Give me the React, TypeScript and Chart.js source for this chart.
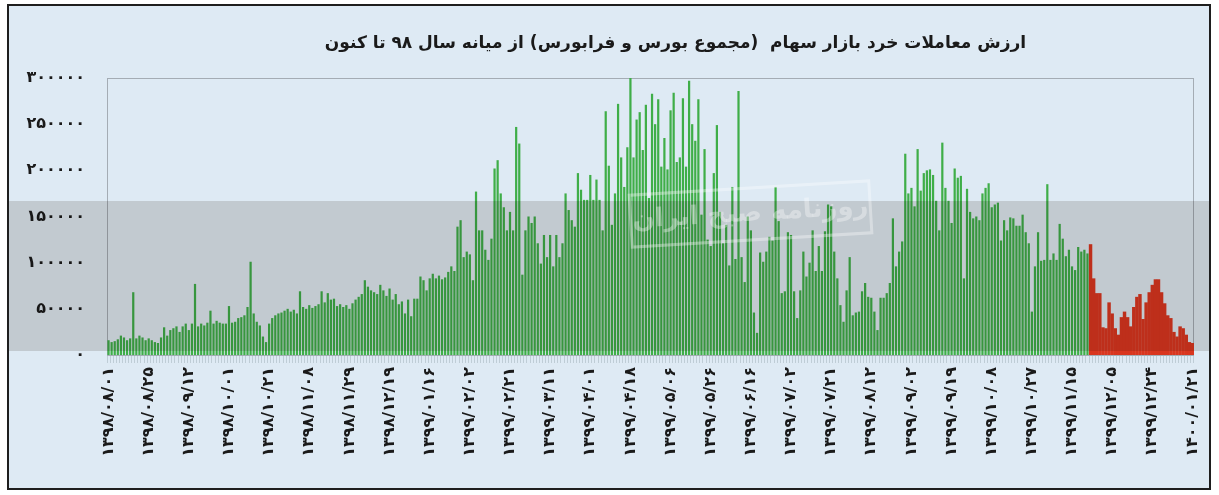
import React, { useEffect, useRef } from "react";
import { Chart, registerables } from "chart.js";

Chart.register(...registerables);

const titleText = "ارزش معاملات خرد بازار سهام  (مجموع بورس و فرابورس) از میانه سال ۹۸ تا کنون";
const watermarkText = "روزنامه صبح ایران";

// one tick label every 13 trading days
const tickDates = [
  "۱۳۹۸/۰۸/۰۱", "۱۳۹۸/۰۸/۲۵", "۱۳۹۸/۰۹/۱۲", "۱۳۹۸/۱۰/۰۱", "۱۳۹۸/۱۰/۲۱", "۱۳۹۸/۱۱/۰۸", "۱۳۹۸/۱۱/۲۹",
  "۱۳۹۸/۱۲/۱۹", "۱۳۹۹/۰۱/۱۶", "۱۳۹۹/۰۲/۰۲", "۱۳۹۹/۰۲/۲۱", "۱۳۹۹/۰۳/۱۱", "۱۳۹۹/۰۴/۰۱", "۱۳۹۹/۰۴/۱۸",
  "۱۳۹۹/۰۵/۰۶", "۱۳۹۹/۰۵/۲۶", "۱۳۹۹/۰۶/۱۶", "۱۳۹۹/۰۷/۰۲", "۱۳۹۹/۰۷/۲۱", "۱۳۹۹/۰۸/۱۲", "۱۳۹۹/۰۹/۰۲",
  "۱۳۹۹/۰۹/۱۹", "۱۳۹۹/۱۰/۰۸", "۱۳۹۹/۱۰/۲۷", "۱۳۹۹/۱۱/۱۵", "۱۳۹۹/۱۲/۰۵", "۱۳۹۹/۱۲/۲۴", "۱۴۰۰/۰۱/۲۱",
];
const daysPerTick = 13;

const yTicks = [0, 50000, 100000, 150000, 200000, 250000, 300000];

// daily values (green period), in thousands
const green1398 = [
  16, 14, 15, 17, 21, 19, 16, 18, 68,
  18, 21, 19, 16, 18, 16, 14, 13,
  19, 30, 21, 27, 29, 31, 25, 31, 34, 27, 34,
  77,
  31, 34, 32, 35, 48, 34, 37, 35, 34, 34, 53, 35, 36, 40, 41, 43, 52,
  101,
  45, 36, 32, 20, 14, 34, 40, 43, 45,
  46, 48, 50, 47, 49, 45,
  69,
  52, 50, 54, 51, 53, 55,
  69, 57, 67, 60, 61,
  53, 55, 52, 54, 50, 56,
  60, 63, 66, 81,
  74, 70, 68, 66, 76,
  70, 64, 72, 60, 66, 55, 58,
];
const green1399a = [
  45, 60, 42, 61, 61,
  85, 81, 70, 83, 88, 83, 86,
  82, 84, 90, 96, 91,
  139, 146,
  106, 112, 109, 81,
  177,
  135, 135, 114, 103, 126,
  202, 211,
  175, 160, 135, 155, 135,
  247, 229,
  87, 135, 150, 143, 150, 121, 99, 130, 106, 130, 96, 130, 106, 121, 175,
  157, 146, 139, 197, 179, 168, 168, 195, 168, 190,
  168, 135, 264, 205, 141, 175, 272, 214, 182, 225, 300, 214,
  255, 263, 222, 271, 170, 283, 250, 277, 204, 235, 201, 265,
  284, 209, 214, 278, 204, 297, 250, 232, 277, 152, 223, 125,
  118, 197, 249, 155, 121, 141, 97, 182, 104, 286,
];
const green1399b = [
  106, 79, 150, 135, 46, 24, 111, 101, 112, 128,
  124, 182, 145, 67, 69, 133, 130, 69, 40, 70,
  112, 85, 100, 135, 91, 118, 91, 134, 163, 161,
  112, 83, 54, 36, 70, 106, 43, 46, 47, 69,
  78, 63, 62, 47, 27, 62, 62, 67, 78, 148,
  96, 112, 123, 218, 175, 181, 161, 223, 178, 197,
  200, 201, 195, 167, 135, 230, 181, 167, 143, 202,
  192, 194, 83, 180, 155, 148, 150, 146, 175, 181,
  186, 160, 163, 165, 124, 146, 135, 149, 148, 140,
  140, 152, 133, 121, 47, 96, 133, 102, 103, 185,
  103, 110, 103, 142, 126, 107, 114, 96, 92, 117,
  112, 114, 110,
];
// latest period (red)
const redValues = [
  120, 83, 67, 67, 30, 29, 57, 45, 29, 22,
  41, 47, 41, 31, 52, 63, 66, 39, 57, 68,
  76, 82, 82, 68, 56, 43, 40, 25, 20, 31,
  29, 22, 14, 13,
];
const unit = 1000;

const faDigits = "۰۱۲۳۴۵۶۷۸۹";
const toFa = (v: number | string) => String(v).replace(/\d/g, (d) => faDigits[+d]);

export default function App() {
  const ref = useRef<HTMLCanvasElement | null>(null);

  useEffect(() => {
    if (!ref.current) return;
    const green = [...green1398, ...green1399a, ...green1399b].map((v) => v * unit);
    const red = redValues.map((v) => v * unit);
    const total = green.length + red.length;
    const labels = Array.from({ length: total }, (_, i) =>
      i % daysPerTick === 0 && tickDates[i / daysPerTick] ? tickDates[i / daysPerTick] : ""
    );
    const greenData = [...green, ...red.map(() => null)];
    const redData = [...green.map(() => null), ...red];

    const decor = {
      id: "decor",
      beforeDraw(chart: any) {
        const { ctx } = chart;
        ctx.save();
        ctx.fillStyle = "#deeaf4";
        ctx.fillRect(9, 6, chart.width - 19, chart.height - 13);
        ctx.restore();
      },
      beforeDatasetsDraw(chart: any) {
        const { ctx, chartArea } = chart;
        ctx.save();
        ctx.strokeStyle = "#a4acb4";
        ctx.lineWidth = 1;
        ctx.strokeRect(chartArea.left + 0.5, chartArea.top + 0.5, chartArea.right - chartArea.left - 1, chartArea.bottom - chartArea.top);
        ctx.restore();
      },
      afterDatasetsDraw(chart: any) {
        const { ctx, chartArea } = chart;
        ctx.save();
        ctx.globalCompositeOperation = "multiply";
        ctx.fillStyle = "rgb(223,220,218)";
        const top = chartArea.top + 123;
        const bottom = chartArea.bottom - 4;
        ctx.fillRect(9, top, chart.width - 19, bottom - top);
        ctx.restore();
        // faint watermark box
        ctx.save();
        const cx = (chartArea.left + chartArea.right) / 2 + 100;
        const cy = chartArea.top + 136;
        ctx.translate(cx, cy);
        ctx.rotate(-0.06);
        ctx.strokeStyle = "rgba(255,255,255,0.35)";
        ctx.lineWidth = 3;
        ctx.strokeRect(-120, -26, 240, 52);
        ctx.fillStyle = "rgba(255,255,255,0.35)";
        ctx.font = "bold 26px 'DejaVu Sans'";
        ctx.textAlign = "center";
        ctx.textBaseline = "middle";
        ctx.direction = "rtl";
        ctx.fillText(watermarkText, 0, 0);
        ctx.restore();
      },
      afterDraw(chart: any) {
        const { ctx, chartArea } = chart;
        ctx.save();
        ctx.fillStyle = "#1a1a1a";
        ctx.font = "bold 17px 'DejaVu Sans'";
        ctx.direction = "rtl";
        ctx.textAlign = "center";
        ctx.textBaseline = "middle";
        ctx.fillText(titleText, (chartArea.left + chartArea.right) / 2 + 25, 44);
        ctx.restore();
      },
    };

    const chart = new Chart(ref.current, {
      type: "bar",
      data: {
        labels,
        datasets: [
          {
            data: greenData as any,
            backgroundColor: "#3fae48",
            barPercentage: 0.72,
            categoryPercentage: 1,
            borderWidth: 0,
          },
          {
            data: redData as any,
            backgroundColor: "#d9361f",
            barPercentage: 1.12,
            categoryPercentage: 1,
            borderWidth: 0,
          },
        ],
      },
      options: {
        responsive: true,
        maintainAspectRatio: false,
        animation: false,
        layout: { padding: { left: 7, right: 25, top: 78, bottom: 0 } },
        plugins: {
          legend: { display: false },
          tooltip: { enabled: false },
          title: { display: false },
        },
        scales: {
          x: {
            stacked: true,
            grid: {
              display: true,
              drawOnChartArea: false,
              drawTicks: true,
              tickLength: 8,
              color: "rgba(165,180,190,0.55)",
            },
            border: { display: false },
            ticks: {
              autoSkip: false,
              maxRotation: 90,
              minRotation: 90,
              padding: 4,
              color: "#1a1a1a",
              font: { family: "DejaVu Sans", size: 16, weight: "bold" },
              callback: (_v: any, i: number) => labels[i],
            },
            afterFit: (s: any) => {
              s.height = 140;
            },
          },
          y: {
            stacked: true,
            min: yTicks[0],
            max: yTicks[yTicks.length - 1],
            afterBuildTicks: (s: any) => {
              s.ticks = yTicks.map((v) => ({ value: v }));
            },
            grid: { display: false, drawTicks: false },
            border: { display: false },
            ticks: {
              padding: 22,
              color: "#1a1a1a",
              font: { family: "DejaVu Sans", size: 16, weight: "bold" },
              callback: (v: any) => toFa(v),
            },
            afterFit: (s: any) => {
              s.width = 100;
            },
          },
        },
      },
      plugins: [decor],
    });
    return () => chart.destroy();
  }, []);

  return (
    <div style={{ position: "fixed", left: 0, top: 0, width: 1219, height: 495, background: "#ffffff" }}>
      <div
        style={{
          position: "absolute",
          left: 7,
          top: 4,
          width: 1204,
          height: 486,
          border: "2px solid #1e1e1e",
          background: "#deeaf4",
          boxSizing: "border-box",
        }}
      />
      <div style={{ position: "absolute", left: 0, top: 0, width: 1219, height: 495 }}>
        <canvas ref={ref} />
      </div>
    </div>
  );
}
